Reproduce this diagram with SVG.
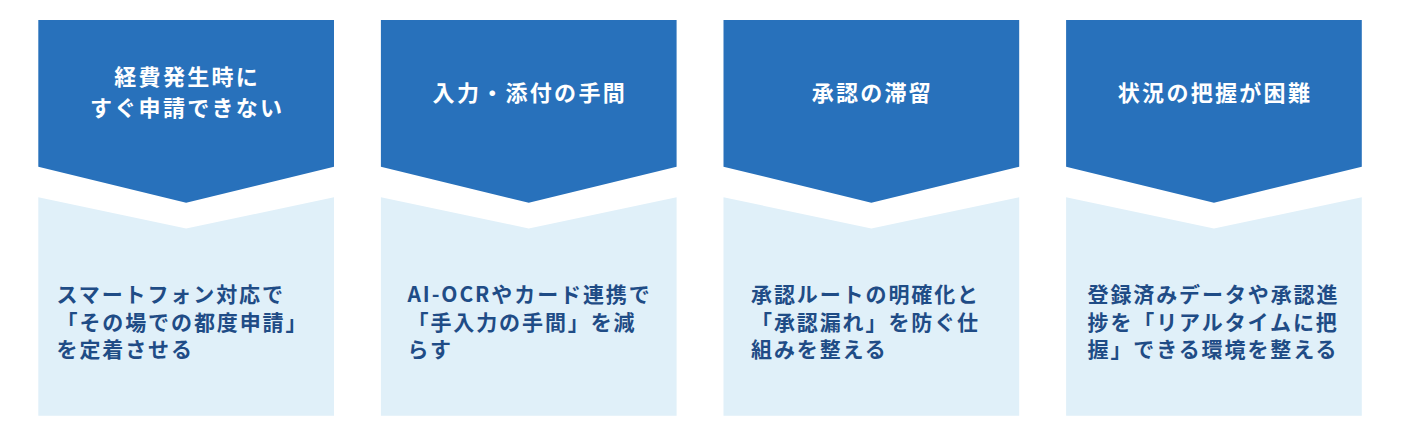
<svg xmlns="http://www.w3.org/2000/svg" width="1401" height="440" viewBox="0 0 1401 440">
<style>
.hd{fill:#2871BB}
.bd{fill:#E0F0F9}
.ht{font-family:"Noto Sans CJK JP","Noto Sans",sans-serif;font-weight:700;font-size:22px;letter-spacing:2.3px;fill:#FFFFFF;text-anchor:middle}
.bt{font-family:"Noto Sans CJK JP","Noto Sans",sans-serif;font-weight:700;font-size:21px;letter-spacing:1.9px;fill:#1F4C86}
</style>
<rect width="1401" height="440" fill="#FFFFFF"/>
<g id="connectors"></g>
<g id="col1">
<path class="hd" d="M38.3,20 H334 V166.7 L186.15,202.7 L38.3,166.7 Z"/>
<path class="bd" d="M38.3,197.3 L186.15,228.5 L334,197.3 V415.7 H38.3 Z"/>
<text class="ht" x="187.2" y="85">経費発生時に</text>
<text class="ht" x="187.2" y="115.5">すぐ申請できない</text>
<text class="bt" x="56.5" y="302">スマートフォン対応で</text>
<text class="bt" x="56.5" y="329.5">「その場での都度申請」</text>
<text class="bt" x="56.5" y="357">を定着させる</text>
</g>
<g id="col2">
<path class="hd" d="M380.9,20 H676.6 V166.7 L528.75,202.7 L380.9,166.7 Z"/>
<path class="bd" d="M380.9,197.3 L528.75,228.5 L676.6,197.3 V415.7 H380.9 Z"/>
<text class="ht" x="529.8" y="101">入力・添付の手間</text>
<text class="bt" x="407.5" y="302">AI-OCRやカード連携で</text>
<text class="bt" x="407.5" y="329.5">「手入力の手間」を減</text>
<text class="bt" x="407.5" y="357">らす</text>
</g>
<g id="col3">
<path class="hd" d="M723.5,20 H1019.2 V166.7 L871.35,202.7 L723.5,166.7 Z"/>
<path class="bd" d="M723.5,197.3 L871.35,228.5 L1019.2,197.3 V415.7 H723.5 Z"/>
<text class="ht" x="872.4" y="101">承認の滞留</text>
<text class="bt" x="751" y="302">承認ルートの明確化と</text>
<text class="bt" x="751" y="329.5">「承認漏れ」を防ぐ仕</text>
<text class="bt" x="751" y="357">組みを整える</text>
</g>
<g id="col4">
<path class="hd" d="M1066.1,20 H1361.8 V166.7 L1213.95,202.7 L1066.1,166.7 Z"/>
<path class="bd" d="M1066.1,197.3 L1213.95,228.5 L1361.8,197.3 V415.7 H1066.1 Z"/>
<text class="ht" x="1215" y="101">状況の把握が困難</text>
<text class="bt" x="1087.5" y="302">登録済みデータや承認進</text>
<text class="bt" x="1087.5" y="329.5">捗を「リアルタイムに把</text>
<text class="bt" x="1087.5" y="357">握」できる環境を整える</text>
</g>
</svg>
